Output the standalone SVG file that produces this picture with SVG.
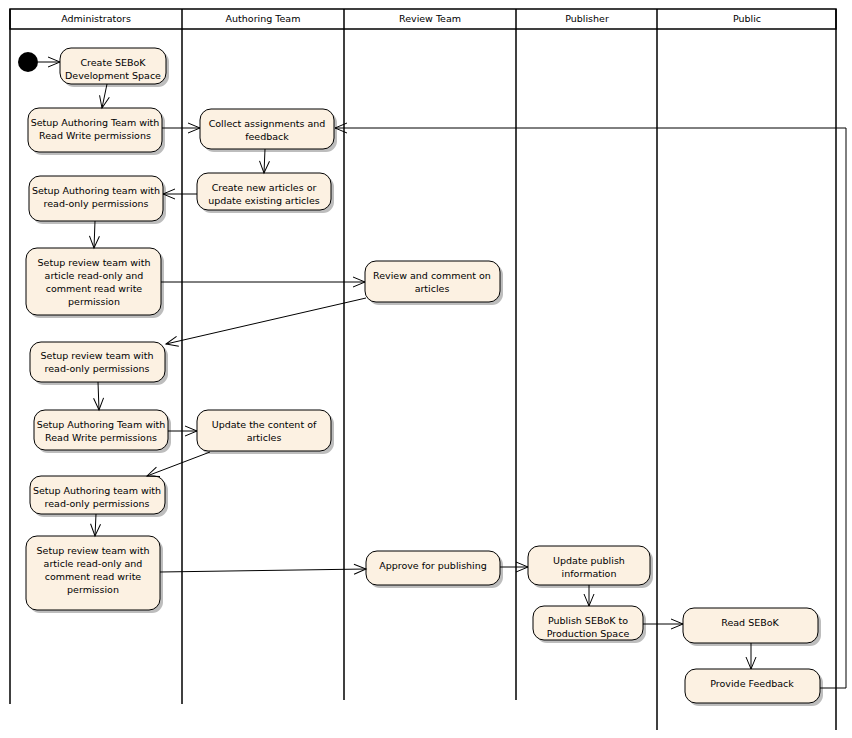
<svg xmlns="http://www.w3.org/2000/svg" width="852" height="738" viewBox="0 0 852 738">
<defs>
<marker id="arr" markerUnits="userSpaceOnUse" markerWidth="14" markerHeight="12" refX="12" refY="5" orient="auto" overflow="visible">
<path d="M0,0 L12,5 L0,10" fill="none" stroke="#000" stroke-width="1"/>
</marker>
</defs>
<style>
.lane{stroke:#000;stroke-width:1.5;fill:none}
.hdr{fill:#fff;stroke:#000;stroke-width:1.5}
.lbl{font-family:"DejaVu Sans",Verdana,sans-serif;font-size:9.5px;fill:#000;text-anchor:middle}
.node rect.b{fill:#FCF1E2;stroke:#000;stroke-width:1}
.node rect.s{fill:#bdbdbd;stroke:none}
.c{stroke:#000;stroke-width:1;fill:none;marker-end:url(#arr)}
</style>
<rect width="852" height="738" fill="#fff"/>
<g id="lanes">
<rect class="hdr" x="10" y="9" width="826" height="20"/>
<line class="lane" x1="10" y1="9" x2="10" y2="704"/>
<line class="lane" x1="182" y1="9" x2="182" y2="704"/>
<line class="lane" x1="344" y1="9" x2="344" y2="700"/>
<line class="lane" x1="516" y1="9" x2="516" y2="700"/>
<line class="lane" x1="657" y1="9" x2="657" y2="730"/>
<line class="lane" x1="836" y1="9" x2="836" y2="730"/>
<text class="lbl" x="96" y="22">Administrators</text>
<text class="lbl" x="263" y="22">Authoring Team</text>
<text class="lbl" x="430" y="22">Review Team</text>
<text class="lbl" x="587" y="22">Publisher</text>
<text class="lbl" x="747" y="22">Public</text>
</g>
<g id="start"><circle cx="28" cy="62" r="10" fill="#000"/></g>
<g id="n1" class="node"><rect class="s" x="63" y="51" width="106" height="36" rx="11"/><rect class="b" x="60" y="48" width="106" height="36" rx="11"/><text class="lbl" x="113" y="66">Create SEBoK</text><text class="lbl" x="113" y="79">Development Space</text></g>
<g id="n2" class="node"><rect class="s" x="31" y="111" width="134" height="44" rx="11"/><rect class="b" x="28" y="108" width="134" height="44" rx="11"/><text class="lbl" x="95" y="126">Setup Authoring Team with</text><text class="lbl" x="95" y="139">Read Write permissions</text></g>
<g id="n3" class="node"><rect class="s" x="203" y="112" width="134" height="40" rx="11"/><rect class="b" x="200" y="109" width="134" height="40" rx="11"/><text class="lbl" x="267" y="127">Collect assignments and</text><text class="lbl" x="267" y="140">feedback</text></g>
<g id="n4" class="node"><rect class="s" x="200" y="176" width="134" height="37" rx="11"/><rect class="b" x="197" y="173" width="134" height="37" rx="11"/><text class="lbl" x="264" y="191">Create new articles or</text><text class="lbl" x="264" y="204">update existing articles</text></g>
<g id="n5" class="node"><rect class="s" x="32" y="179" width="134" height="45" rx="11"/><rect class="b" x="29" y="176" width="134" height="45" rx="11"/><text class="lbl" x="96" y="194">Setup Authoring team with</text><text class="lbl" x="96" y="207">read-only permissions</text></g>
<g id="n6" class="node"><rect class="s" x="29" y="251" width="135" height="67" rx="11"/><rect class="b" x="26" y="248" width="135" height="67" rx="11"/><text class="lbl" x="94" y="266">Setup review team with</text><text class="lbl" x="94" y="279">article read-only and</text><text class="lbl" x="94" y="292">comment read write</text><text class="lbl" x="94" y="305">permission</text></g>
<g id="n7" class="node"><rect class="s" x="368" y="264" width="135" height="41" rx="11"/><rect class="b" x="365" y="261" width="135" height="41" rx="11"/><text class="lbl" x="432" y="279">Review and comment on</text><text class="lbl" x="432" y="292">articles</text></g>
<g id="n8" class="node"><rect class="s" x="33" y="345" width="135" height="40" rx="11"/><rect class="b" x="30" y="342" width="135" height="40" rx="11"/><text class="lbl" x="97" y="359">Setup review team with</text><text class="lbl" x="97" y="372">read-only permissions</text></g>
<g id="n9" class="node"><rect class="s" x="37" y="413" width="134" height="40" rx="11"/><rect class="b" x="34" y="410" width="134" height="40" rx="11"/><text class="lbl" x="101" y="428">Setup Authoring Team with</text><text class="lbl" x="101" y="441">Read Write permissions</text></g>
<g id="n10" class="node"><rect class="s" x="200" y="413" width="134" height="41" rx="11"/><rect class="b" x="197" y="410" width="134" height="41" rx="11"/><text class="lbl" x="264" y="428">Update the content of</text><text class="lbl" x="264" y="441">articles</text></g>
<g id="n11" class="node"><rect class="s" x="33" y="479" width="135" height="38" rx="11"/><rect class="b" x="30" y="476" width="135" height="38" rx="11"/><text class="lbl" x="97" y="494">Setup Authoring team with</text><text class="lbl" x="97" y="507">read-only permissions</text></g>
<g id="n12" class="node"><rect class="s" x="29" y="539" width="134" height="74" rx="11"/><rect class="b" x="26" y="536" width="134" height="74" rx="11"/><text class="lbl" x="93" y="554">Setup review team with</text><text class="lbl" x="93" y="567">article read-only and</text><text class="lbl" x="93" y="580">comment read write</text><text class="lbl" x="93" y="593">permission</text></g>
<g id="n13" class="node"><rect class="s" x="369" y="554" width="134" height="34" rx="11"/><rect class="b" x="366" y="551" width="134" height="34" rx="11"/><text class="lbl" x="433" y="569">Approve for publishing</text></g>
<g id="n14" class="node"><rect class="s" x="531" y="549" width="122" height="39" rx="11"/><rect class="b" x="528" y="546" width="122" height="39" rx="11"/><text class="lbl" x="589" y="564">Update publish</text><text class="lbl" x="589" y="577">information</text></g>
<g id="n15" class="node"><rect class="s" x="536" y="609" width="110" height="34" rx="11"/><rect class="b" x="533" y="606" width="110" height="34" rx="11"/><text class="lbl" x="588" y="624">Publish SEBoK to</text><text class="lbl" x="588" y="637">Production Space</text></g>
<g id="n16" class="node"><rect class="s" x="686" y="611" width="135" height="35" rx="11"/><rect class="b" x="683" y="608" width="135" height="35" rx="11"/><text class="lbl" x="750" y="626">Read SEBoK</text></g>
<g id="n17" class="node"><rect class="s" x="688" y="672" width="135" height="34" rx="11"/><rect class="b" x="685" y="669" width="135" height="34" rx="11"/><text class="lbl" x="752" y="687">Provide Feedback</text></g>
<g id="connectors">
<line class="c" x1="38" y1="62" x2="60" y2="62"/>
<line class="c" x1="107" y1="84" x2="102" y2="108"/>
<line class="c" x1="162" y1="128" x2="200" y2="128"/>
<line class="c" x1="265" y1="149" x2="264" y2="173"/>
<line class="c" x1="197" y1="194" x2="163" y2="194"/>
<line class="c" x1="95" y1="221" x2="94" y2="248"/>
<line class="c" x1="161" y1="282" x2="365" y2="282"/>
<line class="c" x1="366" y1="298" x2="166" y2="344"/>
<line class="c" x1="98" y1="382" x2="99" y2="410"/>
<line class="c" x1="168" y1="431" x2="197" y2="431"/>
<line class="c" x1="210" y1="452" x2="147" y2="476"/>
<line class="c" x1="96" y1="514" x2="95" y2="536"/>
<line class="c" x1="160" y1="572" x2="366" y2="569"/>
<line class="c" x1="500" y1="567" x2="528" y2="567"/>
<line class="c" x1="589" y1="585" x2="589" y2="606"/>
<line class="c" x1="643" y1="624" x2="683" y2="624"/>
<line class="c" x1="751" y1="643" x2="751" y2="669"/>
<polyline class="c" points="820,688 846,688 846,128 335,128"/>
</g>
</svg>
